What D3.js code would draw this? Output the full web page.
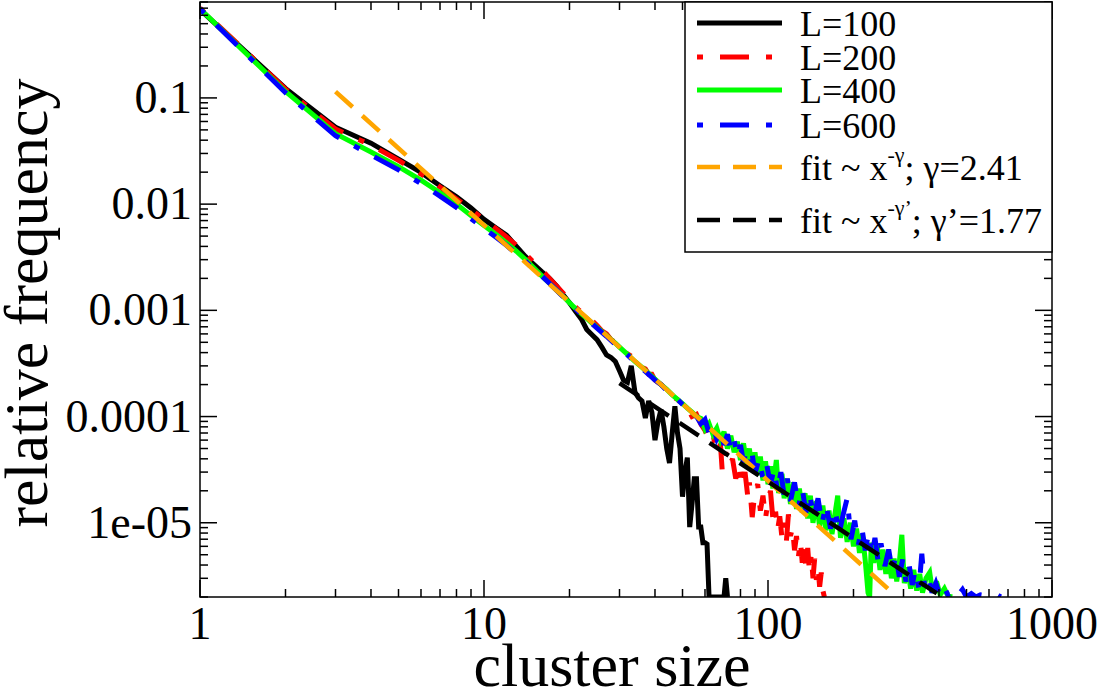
<!DOCTYPE html>
<html>
<head>
<meta charset="utf-8">
<script src="https://cdn.jsdelivr.net/npm/d3@7"></script>
<style>
  html, body { margin: 0; padding: 0; background: #fff; }
  svg { display: block; }
  text { font-family: 'Liberation Serif', 'Times New Roman', Times, 'DejaVu Serif', serif; }
</style>
</head>
<body>
<div id="chart"></div>
<script>
// cluster sizes shared by the smooth head of every curve
const sizesHead = [1, 2, 3, 4, 5, 6, 7, 8, 9, 10, 11, 12, 13, 14, 15, 16, 17, 18, 19, 20];

const l100Head = [0.68, 0.123, 0.053, 0.0375, 0.0265, 0.0199, 0.0149, 0.0117, 0.0092, 0.0072,
    0.0060, 0.0051, 0.0040, 0.0032, 0.0027, 0.0023, 0.0020, 0.0017, 0.0014, 0.00118];
const l200Head = [0.70, 0.121, 0.051, 0.036, 0.0258, 0.0192, 0.0145, 0.0112, 0.0089, 0.0071,
    0.0059, 0.0049, 0.0041, 0.0034, 0.0028, 0.0024, 0.0020, 0.0017, 0.00145, 0.00124];
const l400Head = [0.69, 0.115, 0.046, 0.031, 0.0225, 0.0168, 0.0128, 0.0100, 0.0078, 0.0063,
    0.0052, 0.0043, 0.0036, 0.0030, 0.0025, 0.0021, 0.0018, 0.00155, 0.00135, 0.00118];
const l600Head = [0.69, 0.112, 0.044, 0.029, 0.021, 0.0156, 0.0119, 0.0093, 0.0073, 0.0059,
    0.0049, 0.0041, 0.0034, 0.0029, 0.0024, 0.0021, 0.0018, 0.00155, 0.00134, 0.00117];

// noisy tails [size, frequency]; 0 = no cluster of that size
const l100Tail = [[21, 9.8e-4], [22, 8.3e-4], [23, 6.6e-4], [24, 5.9e-4], [25, 5.3e-4], [26, 4.5e-4],
    [27, 3.8e-4], [28, 3.6e-4], [29, 3.3e-4], [30, 2.7e-4], [31, 2.2e-4], [32, 2.1e-4], [33, 3.0e-4],
    [34, 1.7e-4], [35, 1.5e-4], [36, 1.4e-4], [37, 9.7e-5], [38, 1.4e-4], [39, 1.1e-4], [40, 6.0e-5],
    [41, 9.0e-5], [42, 1.16e-4], [43, 8.0e-5], [44, 5.0e-5], [45, 3.65e-5], [46, 7.0e-5], [47, 1.25e-4],
    [48, 7.0e-5], [49, 5.0e-5], [50, 1.76e-5], [51, 3.0e-5], [52, 4.1e-5], [53, 9.1e-6], [54, 1.5e-5],
    [55, 2.6e-5], [56, 2.6e-5], [57, 9.1e-6], [58, 9.1e-6], [59, 6.5e-6], [60, 6.5e-6], [61, 6.3e-6],
    [62, 0], [70, 0], [71, 3.0e-6], [72, 0]];

const l200Tail = [[21, 1.07e-3], [22, 9.6e-4], [23, 8.7e-4], [24, 8.0e-4], [25, 7.2e-4], [26, 6.4e-4],
    [27, 6.0e-4], [28, 5.3e-4], [29, 5.0e-4], [30, 4.6e-4], [31, 4.1e-4], [32, 3.9e-4], [33, 3.7e-4],
    [34, 3.3e-4], [35, 3.2e-4], [36, 2.9e-4], [37, 2.8e-4], [38, 2.5e-4], [39, 2.5e-4], [40, 2.2e-4],
    [42, 2.0e-4], [44, 1.8e-4], [46, 1.55e-4], [48, 1.45e-4], [50, 1.3e-4], [52, 1.2e-4], [54, 1.0e-4],
    [56, 1.05e-4], [58, 8.5e-5], [60, 7.4e-5], [62, 6.0e-5], [64, 6.8e-5], [66, 4.5e-5], [68, 5.5e-5],
    [69, 3.1e-5], [71, 4.6e-5], [73, 3.4e-5], [75, 4.0e-5], [77, 2.6e-5], [79, 3.6e-5], [81, 2.2e-5],
    [83, 3.0e-5], [85, 1.7e-5], [86, 2.4e-5], [88, 1.13e-5], [90, 2.0e-5], [92, 2.3e-5], [94, 1.3e-5],
    [96, 1.8e-5], [98, 1.1e-5], [100, 1.6e-5], [102, 2.0e-5], [104, 1.1e-5], [106, 1.4e-5], [108, 8.5e-6],
    [110, 1.15e-5], [112, 7.2e-6], [114, 1.0e-5], [116, 6.5e-6], [118, 1.2e-5], [120, 7.5e-6], [122, 9.0e-6],
    [124, 5.5e-6], [126, 7.5e-6], [128, 4.8e-6], [130, 6.8e-6], [132, 4.2e-6], [134, 6.2e-6], [136, 3.6e-6],
    [138, 5.8e-6], [140, 3.4e-6], [142, 5.0e-6], [144, 3.0e-6], [146, 4.6e-6], [148, 2.9e-6], [150, 3.8e-6],
    [152, 2.5e-6], [154, 3.4e-6], [156, 2.3e-6], [158, 0]];

const l400Tail = [[21, 1.04e-3], [22, 9.3e-4], [23, 8.4e-4], [24, 7.6e-4], [25, 6.9e-4], [26, 6.3e-4],
    [27, 5.8e-4], [28, 5.3e-4], [29, 4.9e-4], [30, 4.5e-4], [32, 3.85e-4], [34, 3.3e-4], [36, 2.9e-4],
    [38, 2.55e-4], [40, 2.25e-4], [42, 2.0e-4], [44, 1.8e-4], [46, 1.6e-4], [48, 1.45e-4], [50, 1.32e-4],
    [52, 1.2e-4], [54, 1.1e-4], [56, 1.0e-4], [58, 9.6e-5], [60, 7.6e-5], [62, 8.6e-5], [64, 6.8e-5],
    [66, 7.8e-5], [68, 6.0e-5], [70, 7.2e-5], [72, 5.0e-5], [74, 6.6e-5], [76, 4.6e-5], [78, 5.8e-5],
    [80, 3.9e-5], [82, 5.6e-5], [84, 3.6e-5], [86, 5.0e-5], [88, 3.1e-5], [90, 4.6e-5], [92, 2.8e-5],
    [94, 4.2e-5], [96, 2.5e-5], [98, 3.8e-5], [100, 2.3e-5], [102, 3.4e-5], [104, 2.1e-5], [107, 3.9e-5],
    [109, 1.9e-5], [112, 2.9e-5], [114, 1.7e-5], [117, 2.6e-5], [120, 1.5e-5], [123, 2.4e-5], [126, 1.35e-5],
    [129, 2.1e-5], [132, 1.25e-5], [135, 1.9e-5], [138, 1.1e-5], [141, 1.8e-5], [144, 1.0e-5], [148, 1.6e-5],
    [152, 9.2e-6], [156, 1.45e-5], [160, 8.5e-6], [164, 1.3e-5], [168, 7.8e-6], [172, 1.2e-5], [176, 1.8e-5],
    [180, 7.2e-6], [185, 1.1e-5], [190, 6.6e-6], [195, 1.0e-5], [200, 6.0e-6], [205, 8.8e-6], [210, 5.2e-6],
    [215, 7.8e-6], [220, 4.4e-6], [225, 2.2e-6], [228, 0], [231, 6.5e-6], [236, 4.2e-6], [242, 6.4e-6],
    [248, 3.6e-6], [254, 5.6e-6], [260, 3.3e-6], [266, 5.0e-6], [272, 3.0e-6], [278, 4.6e-6], [284, 2.8e-6],
    [290, 4.2e-6], [296, 7.7e-6], [302, 2.7e-6], [310, 3.8e-6], [318, 2.4e-6], [326, 3.6e-6], [334, 2.3e-6],
    [342, 3.3e-6], [350, 2.2e-6], [360, 3.0e-6], [371, 3.4e-6], [380, 2.2e-6], [392, 2.8e-6], [404, 2.1e-6],
    [418, 2.4e-6], [430, 2.05e-6], [445, 0]];

const l600Tail = [[21, 1.03e-3], [22, 9.2e-4], [23, 8.3e-4], [24, 7.5e-4], [25, 6.8e-4], [26, 6.2e-4],
    [27, 5.7e-4], [28, 5.2e-4], [29, 4.8e-4], [30, 4.4e-4], [32, 3.8e-4], [34, 3.25e-4], [36, 2.85e-4],
    [38, 2.5e-4], [40, 2.2e-4], [42, 2.0e-4], [44, 1.75e-4], [46, 1.6e-4], [48, 1.45e-4], [50, 1.3e-4],
    [52, 1.2e-4], [54, 1.05e-4], [56, 1.0e-4], [58, 8.6e-5], [60, 9.4e-5], [62, 7.0e-5], [64, 8.2e-5],
    [66, 6.2e-5], [68, 7.4e-5], [70, 5.4e-5], [72, 6.8e-5], [74, 4.8e-5], [76, 6.0e-5], [78, 4.2e-5],
    [80, 5.4e-5], [82, 3.7e-5], [84, 4.9e-5], [86, 3.3e-5], [88, 4.4e-5], [90, 2.9e-5], [93, 4.0e-5],
    [96, 2.6e-5], [99, 3.5e-5], [102, 2.3e-5], [105, 3.2e-5], [108, 2.0e-5], [111, 3.0e-5], [114, 1.8e-5],
    [117, 2.6e-5], [120, 1.6e-5], [124, 2.4e-5], [128, 1.4e-5], [132, 2.1e-5], [136, 1.25e-5], [140, 1.9e-5],
    [145, 1.1e-5], [150, 1.7e-5], [155, 9.8e-6], [160, 1.5e-5], [166, 8.8e-6], [172, 1.35e-5], [178, 7.9e-6],
    [184, 1.2e-5], [190, 1.7e-5], [196, 7.0e-6], [202, 1.05e-5], [208, 6.2e-6], [214, 9.0e-6], [220, 5.5e-6],
    [226, 8.0e-6], [232, 4.9e-6], [238, 7.2e-6], [244, 4.4e-6], [250, 6.4e-6], [258, 3.9e-6], [266, 5.6e-6],
    [274, 3.5e-6], [282, 5.0e-6], [290, 3.1e-6], [298, 4.5e-6], [306, 2.8e-6], [314, 4.0e-6], [322, 2.6e-6],
    [330, 3.6e-6], [340, 2.4e-6], [348, 5.1e-6], [356, 2.5e-6], [366, 3.1e-6], [378, 2.2e-6], [390, 2.7e-6],
    [402, 2.1e-6], [416, 2.5e-6], [430, 2.1e-6], [445, 2.3e-6], [460, 2.05e-6], [475, 2.2e-6], [484, 2.35e-6],
    [500, 2.0e-6], [520, 2.15e-6], [540, 2.0e-6], [560, 2.1e-6], [600, 2.05e-6], [640, 2.1e-6], [660, 0]];

// fitted power laws, drawn between their end points
const fitGamma = [[3, 0.1146], [285, 1.96e-6]];
const fitGammaPrime = [[30, 2.06e-4], [393, 2.16e-6]];

const xTickValues = [1, 10, 100, 1000];
const xTickLabels = ["1", "10", "100", "1000"];
const yTickValues = [0.1, 0.01, 0.001, 0.0001, 0.00001];
const yTickLabels = ["0.1", "0.01", "0.001", "0.0001", "1e-05"];

const serif = "'Liberation Serif', 'Times New Roman', Times, 'DejaVu Serif', serif";

class ClusterChart {
    constructor({ parentElement, series }) {
        this.parentElement = parentElement;
        this.series = series;
        this.initVis();
    }

    initVis() {
        const vis = this;

        vis.width = 1102;
        vis.height = 692;
        vis.plot = { left: 200, right: 1052, top: 2, bottom: 597 };

        vis.svg = d3.select(vis.parentElement)
            .append("svg")
            .attr("width", vis.width)
            .attr("height", vis.height)
            .attr("font-family", serif);

        vis.xScale = d3.scaleLog().domain([1, 1000]).range([vis.plot.left, vis.plot.right]);
        vis.yScale = d3.scaleLog().domain([2e-6, 0.8]).range([vis.plot.bottom, vis.plot.top]).clamp(true);

        vis.svg.append("clipPath").attr("id", "plot-clip")
            .append("rect")
            .attr("x", vis.plot.left)
            .attr("y", vis.plot.top)
            .attr("width", vis.plot.right - vis.plot.left)
            .attr("height", vis.plot.bottom - vis.plot.top);

        vis.lineGenerator = d3.line()
            .x(d => vis.xScale(d[0]))
            .y(d => vis.yScale(d[1]));

        vis.updateVis();
    }

    updateVis() {
        const vis = this;

        // Curves and fits
        const curves = vis.svg.append("g").attr("clip-path", "url(#plot-clip)");
        vis.series.forEach(s => {
            curves.append("path")
                .datum(s.values)
                .attr("fill", "none")
                .attr("stroke", s.color)
                .attr("stroke-width", s.width)
                .attr("stroke-dasharray", s.dash)
                .attr("stroke-linejoin", "miter")
                .attr("stroke-miterlimit", 3)
                .attr("d", vis.lineGenerator);
        });

        // Frame with inward ticks on all four sides
        const p = vis.plot;
        const axes = vis.svg.append("g").attr("stroke", "#000").attr("stroke-width", 1.5);
        axes.append("rect")
            .attr("x", p.left).attr("y", p.top)
            .attr("width", p.right - p.left).attr("height", p.bottom - p.top)
            .attr("fill", "none");

        const isMajor = v => Math.abs(Math.log10(v) - Math.round(Math.log10(v))) < 1e-9;

        vis.xScale.ticks().forEach(v => {
            const px = vis.xScale(v);
            const len = isMajor(v) ? 17 : 8;
            axes.append("line").attr("x1", px).attr("x2", px).attr("y1", p.bottom).attr("y2", p.bottom - len);
            axes.append("line").attr("x1", px).attr("x2", px).attr("y1", p.top).attr("y2", p.top + len);
        });
        vis.yScale.ticks().forEach(v => {
            const py = vis.yScale(v);
            const len = isMajor(v) ? 17 : 8;
            axes.append("line").attr("y1", py).attr("y2", py).attr("x1", p.left).attr("x2", p.left + len);
            axes.append("line").attr("y1", py).attr("y2", py).attr("x1", p.right).attr("x2", p.right - len);
        });

        // Tick labels
        vis.svg.selectAll(".x-label")
            .data(xTickValues)
            .enter()
            .append("text")
            .attr("class", "x-label")
            .attr("x", d => vis.xScale(d))
            .attr("y", p.bottom + 42)
            .attr("text-anchor", "middle")
            .style("font-family", serif)
            .style("font-size", "46px")
            .text((d, i) => xTickLabels[i]);

        vis.svg.selectAll(".y-label")
            .data(yTickValues)
            .enter()
            .append("text")
            .attr("class", "y-label")
            .attr("x", p.left - 8)
            .attr("y", d => vis.yScale(d) + 15)
            .attr("text-anchor", "end")
            .style("font-family", serif)
            .style("font-size", "46px")
            .text((d, i) => yTickLabels[i]);

        // Axis titles
        vis.svg.append("text")
            .attr("x", 612)
            .attr("y", 686)
            .attr("text-anchor", "middle")
            .style("font-family", serif)
            .style("font-size", "62px")
            .text("cluster size");

        vis.svg.append("text")
            .attr("transform", "translate(47,303) rotate(-90)")
            .attr("text-anchor", "middle")
            .style("font-family", serif)
            .style("font-size", "62px")
            .text("relative frequency");

        // Legend
        const legend = vis.svg.append("g");
        legend.append("rect")
            .attr("x", 685).attr("y", p.top)
            .attr("width", p.right - 685).attr("height", 250)
            .attr("fill", "#fff")
            .attr("stroke", "#000")
            .attr("stroke-width", 1.5);

        const rows = [23, 57, 90, 125, 167, 220];
        vis.series.forEach((s, i) => {
            const ly = rows[i];
            legend.append("line")
                .attr("x1", 697).attr("x2", 782)
                .attr("y1", ly).attr("y2", ly)
                .attr("stroke", s.color)
                .attr("stroke-width", s.width)
                .attr("stroke-dasharray", s.dash);

            const t = legend.append("text")
                .attr("x", 800)
                .attr("y", ly + 13)
                .style("font-family", serif)
                .style("font-size", "36px");
            s.label.forEach(part => {
                const span = t.append("tspan").text(part.text);
                if (part.sup) span.attr("dy", -18).style("font-size", "22px");
                if (part.after) span.attr("dy", 18);
            });
        });
    }
}

document.addEventListener("DOMContentLoaded", () => {
    const head = values => sizesHead.map((s, i) => [s, values[i]]);
    const dashDot = "6,17,29,17";

    new ClusterChart({
        parentElement: "#chart",
        series: [
            { values: head(l100Head).concat(l100Tail), color: "#000000", width: 5, dash: null,
              label: [{ text: "L=100" }] },
            { values: head(l200Head).concat(l200Tail), color: "#ff0000", width: 5, dash: dashDot,
              label: [{ text: "L=200" }] },
            { values: head(l400Head).concat(l400Tail), color: "#00ff00", width: 5, dash: null,
              label: [{ text: "L=400" }] },
            { values: head(l600Head).concat(l600Tail), color: "#0000ff", width: 5, dash: dashDot,
              label: [{ text: "L=600" }] },
            { values: fitGamma, color: "#ffa500", width: 4.5, dash: "23,13",
              label: [{ text: "fit ~ x" }, { text: "-γ", sup: true }, { text: "; γ=2.41", after: true }] },
            { values: fitGammaPrime, color: "#000000", width: 4.5, dash: "23,13",
              label: [{ text: "fit ~ x" }, { text: "-γ’", sup: true }, { text: "; γ’=1.77", after: true }] }
        ]
    });
});
</script>
</body>
</html>
